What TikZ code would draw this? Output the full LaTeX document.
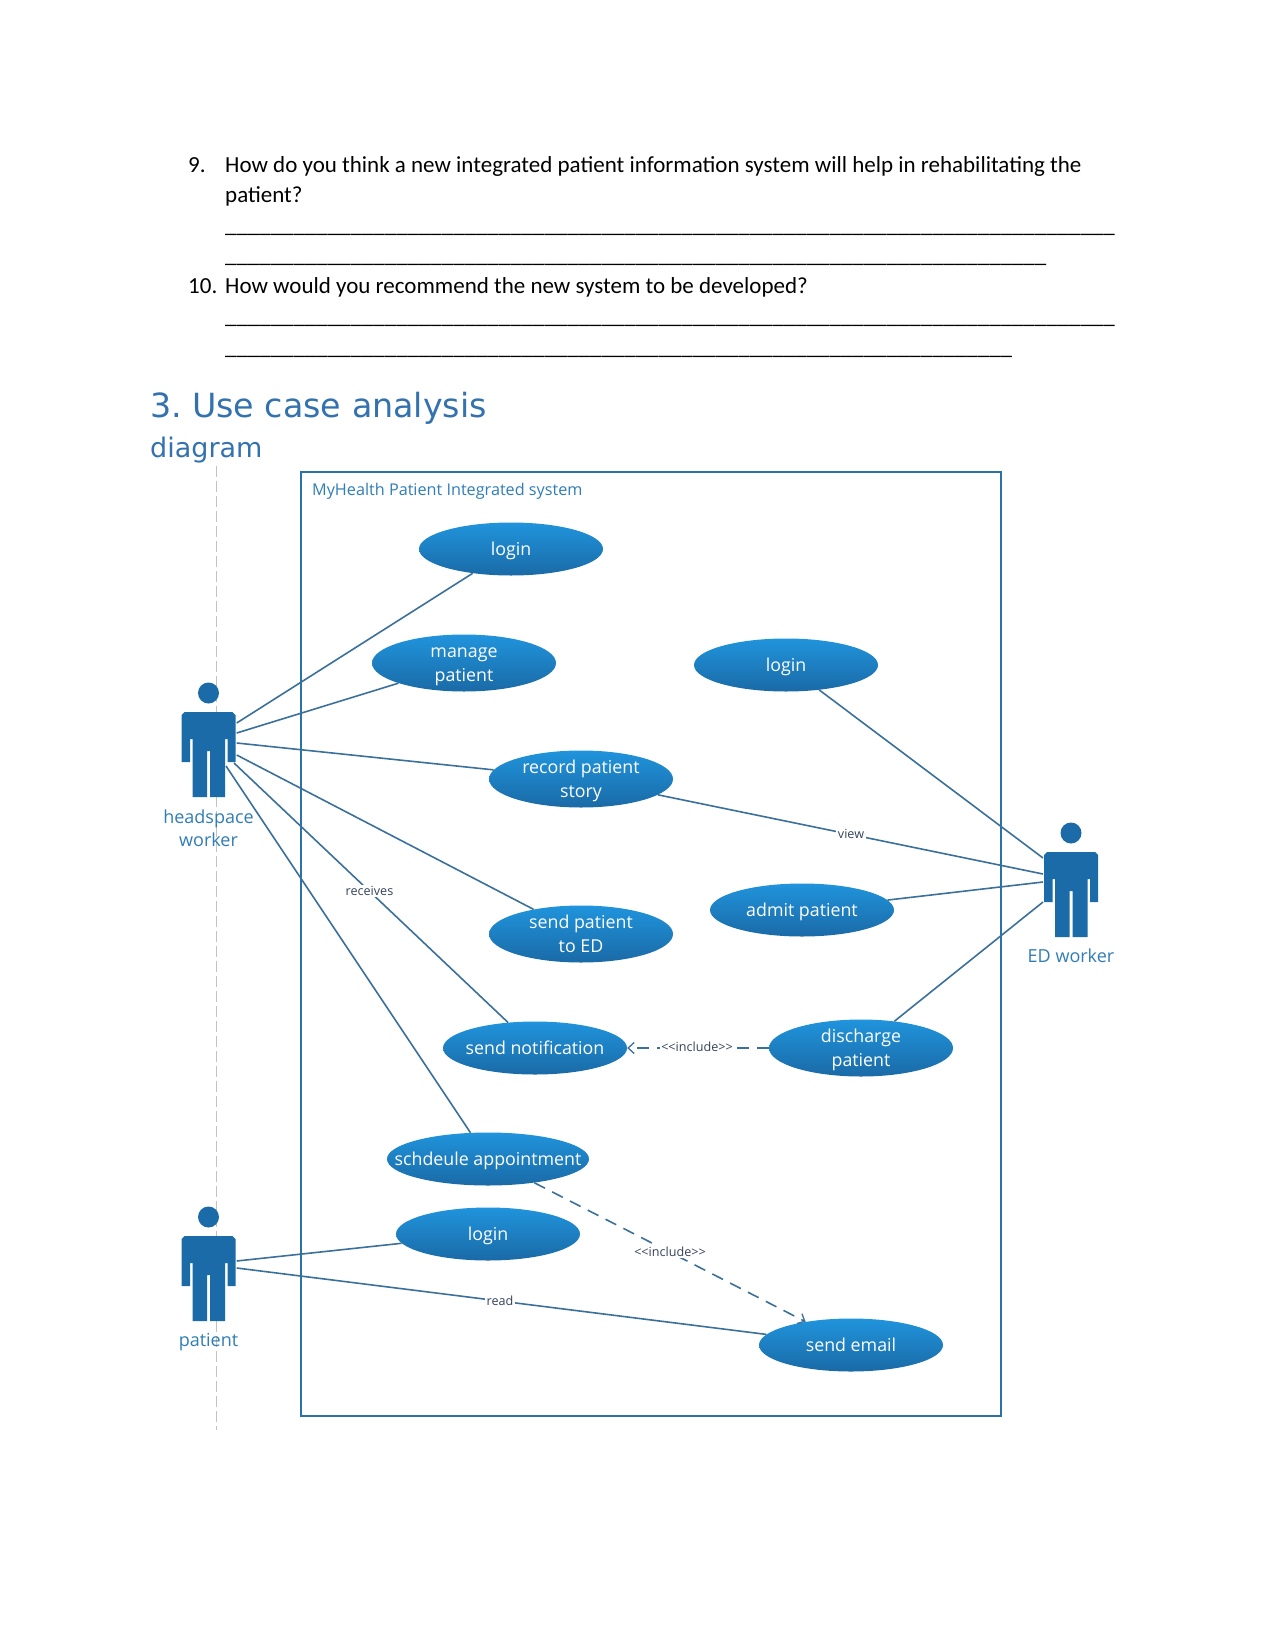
\documentclass[tikz,border=0pt]{standalone}
\usepackage{fontspec}
\setmainfont{Carlito}
\newfontfamily\headfont{DejaVu Sans}
\newfontfamily\diafont{Open Sans}
\usetikzlibrary{shapes.geometric,arrows.meta}
\definecolor{figblue}{HTML}{1A6BA8}
\definecolor{framecol}{HTML}{2A72A8}
\definecolor{linecol}{HTML}{3A7099}
\definecolor{headcol}{HTML}{3372AE}
\definecolor{labcol}{HTML}{2F7DB5}
\definecolor{smallcol}{HTML}{33435A}
\definecolor{ucTop}{HTML}{2094DC}
\definecolor{ucBot}{HTML}{1A6AA6}
\def\us{\_\_\_\_\_\_\_\_\_\_}
\newcommand{\ucone}[1]{\smash{\makebox[0pt]{\raisebox{-6.5pt}{#1}}}}
\newcommand{\uctwo}[2]{\smash{\makebox[0pt]{\raisebox{5.5pt}{#1}}\makebox[0pt]{\raisebox{-18pt}{#2}}}}
\newcommand{\figbody}[2]{%
  \fill[figblue,shift={(#1,#2)}]
    (-27,22) -- (-24,19) -- (24,19) -- (27,22) -- (27,69) -- (19,69) -- (19,46) -- (16.5,46)
    -- (16.5,104) -- (1.5,104) -- (1.5,58) -- (-1.5,58) -- (-1.5,104) -- (-16,104)
    -- (-16,46) -- (-18.5,46) -- (-18.5,69) -- (-27,69) -- cycle;}
\tikzset{
  uc/.style={ellipse,minimum width=184pt,minimum height=53pt,inner sep=0pt,
    top color=ucTop,bottom color=ucBot,draw=none,text=white,
    font=\diafont\fontsize{17.8pt}{22pt}\selectfont},
  uctall/.style={uc,minimum height=57pt},
  conn/.style={draw=linecol,line width=1.6pt},
  dashconn/.style={draw=linecol,line width=1.6pt,dash pattern=on 12pt off 8pt,
    -{Straight Barb[length=6pt,width=11pt,line width=1.3pt]}},
  actorhead/.style={circle,fill=figblue,draw=none,minimum size=21pt,inner sep=0pt},
  actorlab/.style={text=labcol,align=center,font=\diafont\fontsize{18pt}{23.5pt}\selectfont},
  edgelab/.style={fill=white,text=smallcol,inner sep=1.5pt,font=\diafont\fontsize{12.6pt}{14pt}\selectfont},
  bodytext/.style={anchor=base west,inner sep=0pt,font=\fontsize{23pt}{27pt}\selectfont},
  ruletext/.style={anchor=base west,inner sep=0pt,font=\fontsize{22.9pt}{27pt}\selectfont},
}
\begin{document}
\begin{tikzpicture}[x=1pt,y=-1pt]
\useasboundingbox (0,0) rectangle (1275,1651);
% page text
\node[bodytext] (n9) at (188,172) {9.};
\node[bodytext] (q9a) at (225,172) {How do you think a new integrated patient information system will help in rehabilitating the};
\node[bodytext] (q9b) at (225,202) {patient?};
\node[ruletext] (u1) at (225,232) {\us\us\us\us\us\us\us\_\_\_\_\_\_\_\_};
\node[ruletext] (u2) at (225,262) {\us\us\us\us\us\us\us\_\_};
\node[bodytext] (n10) at (188,293) {10.};
\node[bodytext] (q10) at (225,293) {How would you recommend the new system to be developed?};
\node[ruletext] (u3) at (225,323) {\us\us\us\us\us\us\us\_\_\_\_\_\_\_\_};
\node[ruletext] (u4) at (225,354) {\us\us\us\us\us\us\_\_\_\_\_\_\_\_\_};
\node[anchor=base west,inner sep=0pt,text=headcol,font=\headfont\fontsize{33.3pt}{36pt}\selectfont] (h1) at (150,417) {3.\hspace{-4pt} Use case analysis};
\node[anchor=base west,inner sep=0pt,text=headcol,font=\headfont\fontsize{27pt}{30pt}\selectfont] (h2) at (150,457) {diagram};
% lifeline
\coordinate (lifeA) at (216,466);
\coordinate (lifeB) at (216,1430);
\draw[draw=black!24,line width=1pt,dash pattern=on 11pt off 4pt] (lifeA) -- (lifeB);
% system frame
\node[draw=framecol,line width=2.4pt,outer sep=0pt,minimum width=700pt,minimum height=944pt,inner sep=0pt,anchor=north west] (sys) at (301,472) {};
\node[anchor=base west,inner sep=0pt,text=labcol,font=\diafont\fontsize{16.2pt}{18pt}\selectfont] (systitle) at (312,495) {MyHealth Patient Integrated system};
% use cases
\node[uc] (login1) at (511,549) {\ucone{login}};
\node[uctall] (manage) at (464,663) {\uctwo{manage}{patient}};
\node[uc] (login2) at (786,665) {\ucone{login}};
\node[uctall] (record) at (581,779) {\uctwo{record patient}{story}};
\node[uctall] (sendpat) at (581,934) {\uctwo{send patient}{to ED}};
\node[uc] (admit) at (802,910) {\ucone{admit patient}};
\node[uc] (notif) at (535,1048) {\ucone{send notification}};
\node[uctall] (disch) at (861,1048) {\uctwo{discharge}{patient}};
\node[uc,minimum width=202pt] (sched) at (488,1159) {\ucone{schdeule appointment}};
\node[uc] (login3) at (488,1234) {\ucone{login}};
\node[uc] (email) at (851,1345) {\ucone{send email}};
% actors
\figbody{208.5}{693}
\node[actorhead] (hwhead) at (208.5,693) {};
\node[actorlab] (hwlab) at (208.5,828) {headspace\\worker};
\figbody{208.5}{1217}
\node[actorhead] (pahead) at (208.5,1217) {};
\node[actorlab] (palab) at (208.5,1342) {patient};
\figbody{1071}{833}
\node[actorhead] (edhead) at (1071,833) {};
\node[actorlab] (edlab) at (1071,956) {ED worker};
% connector ends on the figures
\coordinate (hw1) at (236.7,723);
\coordinate (hw2) at (236.7,733);
\coordinate (hw3) at (236.7,743);
\coordinate (hw4) at (236.7,755);
\coordinate (hw5) at (234,763);
\coordinate (hw6) at (226,766);
\coordinate (pa1) at (236.7,1261);
\coordinate (pa2) at (236.7,1268);
\coordinate (ed1) at (1043,858);
\coordinate (ed2) at (1043,874);
\coordinate (ed3) at (1043,882);
\coordinate (ed4) at (1043,902);
% connectors
\draw[conn] (hw1) -- (login1);
\draw[conn] (hw2) -- (manage);
\draw[conn] (hw3) -- (record);
\draw[conn] (hw4) -- (sendpat);
\draw[conn] (hw5) -- (notif);
\draw[conn] (hw6) -- (sched);
\draw[conn] (pa1) -- (login3);
\draw[conn] (pa2) -- (email);
\draw[conn] (ed1) -- (login2);
\draw[conn] (ed2) -- (record);
\draw[conn] (ed3) -- (admit);
\draw[conn] (ed4) -- (disch);
\draw[dashconn] (disch) -- (notif);
\draw[dashconn] (sched) -- (email);
% connector labels
\node[edgelab] (lrec) at (369.5,891) {receives};
\node[edgelab] (lview) at (851,834) {view};
\node[edgelab] (lread) at (500,1301) {read};
\node[edgelab] (linc1) at (697,1047) {<<include>>};
\node[edgelab] (linc2) at (670,1252) {<<include>>};
\end{tikzpicture}
\end{document}
